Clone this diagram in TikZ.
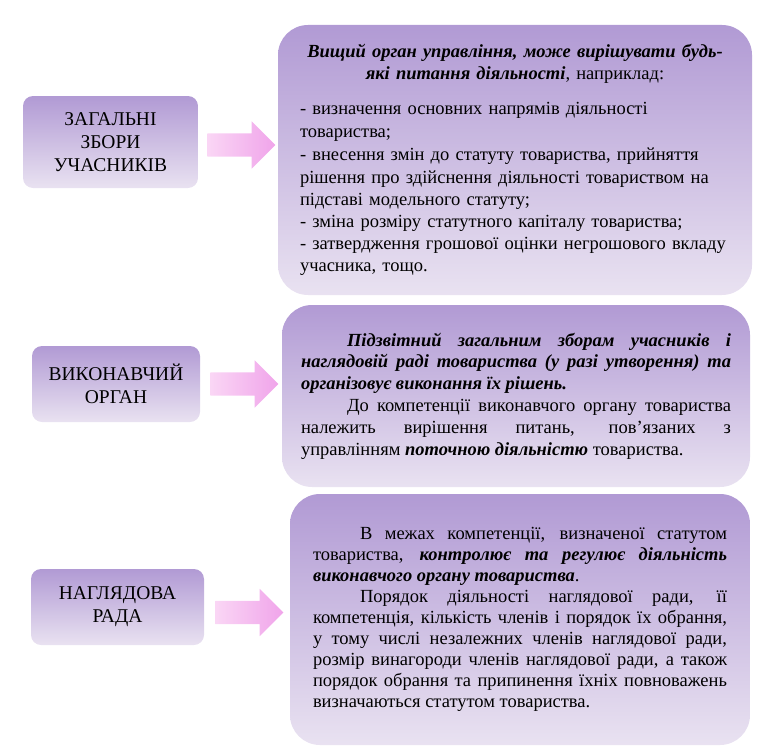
\documentclass[tikz,border=0pt]{standalone}
\usepackage{fontspec}
\setmainfont{Liberation Serif}
\usetikzlibrary{positioning, shapes.arrows}
\definecolor{boxtop}{RGB}{177,154,212}
\definecolor{boxbottom}{RGB}{233,226,241}
\definecolor{arrowleft}{RGB}{250,214,245}
\definecolor{arrowright}{RGB}{240,164,234}
\tikzstyle{organ} = [rectangle, rounded corners=10pt, top color=boxtop, bottom color=boxbottom, align=center, inner sep=0pt, font=\fontsize{19.5}{23}\selectfont]
\tikzstyle{duty} = [rectangle, rounded corners=30pt, top color=boxtop, bottom color=boxbottom, inner sep=0pt, font=\fontsize{18.5}{22}\selectfont]
\tikzstyle{flow} = [single arrow, left color=arrowleft, right color=arrowright, minimum height=68pt, inner xsep=0pt, inner ysep=11.5pt, single arrow head extend=12pt]
\newcommand{\bi}[1]{\textbf{\textit{#1}}}

\begin{document}
\begin{tikzpicture}[x=1pt, y=1pt]
			\useasboundingbox (0,0) rectangle (775,-752);
			\tolerance=10000
			% Nodes
			\node (general) [organ, minimum width=175pt, minimum height=92pt] at (110.5,-142) {ЗАГАЛЬНІ\\ЗБОРИ\\УЧАСНИКІВ};
			\node (executive) [organ, minimum width=168pt, minimum height=76pt] at (116,-384) {ВИКОНАВЧИЙ\\ОРГАН};
			\node (board) [organ, minimum width=173pt, minimum height=76pt] at (117.5,-607) {НАГЛЯДОВА\\РАДА};
			
			\node (generaltext) [duty, minimum width=474pt, minimum height=270pt, text width=430pt, align=left, font=\fontsize{18.5}{22.2}\selectfont] at (515,-160) {%
				{\centering\bi{Вищий орган управління, може вирішувати будь-}\\\bi{які питання діяльності}, наприклад:\par}
				\vspace{13pt}
				- визначення основних напрямів діяльності\\товариства;\par
				\vspace{1.5pt}
				- внесення змін до статуту товариства, прийняття\\рішення про здійснення діяльності товариством на\\підставі модельного статуту;\\- зміна розміру статутного капіталу товариства;\\- затвердження грошової оцінки негрошового вкладу\\учасника, тощо.};
			\node (executivetext) [duty, minimum width=468pt, minimum height=182pt, text width=430pt, align=justify, font=\fontsize{18.5}{21.8}\selectfont] at (516,-396) {%
				\hspace*{46pt}\bi{Підзвітний загальним зборам учасників і}\linebreak
				\bi{наглядовій раді товариства (у разі утворення) та}\linebreak
				\bi{організовує виконання їх рішень.}\par
				\hspace*{46pt}До компетенції виконавчого органу товариства\linebreak
				належить вирішення питань, пов’язаних з\linebreak
				управлінням \bi{поточною діяльністю} товариства.\par
				\vspace{8pt}};
			\node (boardtext) [duty, minimum width=460pt, minimum height=251pt, text width=414pt, align=justify, font=\fontsize{18.5}{21}\selectfont] at (520,-619.5) {%
				\hspace*{47pt}В межах компетенції, визначеної статутом\linebreak
				товариства, \bi{контролює та регулює діяльність}\linebreak
				\bi{виконавчого органу товариства}.\par
				\hspace*{47pt}Порядок діяльності наглядової ради, її\linebreak
				компетенція, кількість членів і порядок їх обрання,\linebreak
				у тому числі незалежних членів наглядової ради,\linebreak
				розмір винагороди членів наглядової ради, а також\linebreak
				порядок обрання та припинення їхніх повноважень\linebreak
				визначаються статутом товариства.\par
				\vspace{4pt}};
			
			% Arrows
			\node (arrow1) [flow, right=9pt of general, yshift=-3pt] {};
			\node (arrow2) [flow, right=10pt of executive] {};
			\node (arrow3) [flow, right=11pt of board, yshift=-5.5pt] {};
		\end{tikzpicture}
\end{document}
